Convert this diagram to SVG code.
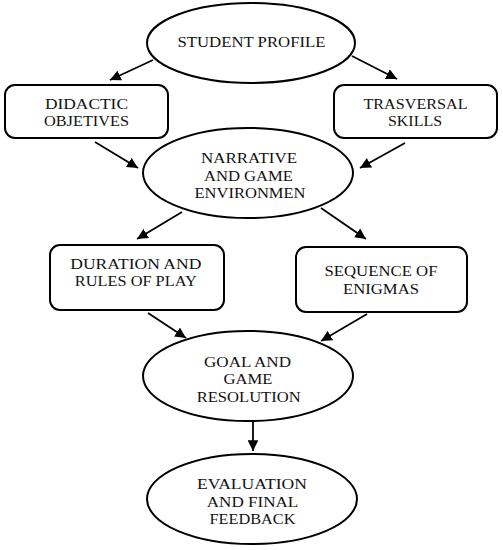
<svg xmlns="http://www.w3.org/2000/svg" width="503" height="550" viewBox="0 0 503 550">
<defs>
<style>
.n{fill:#fff;stroke:#000;stroke-width:2}
.t{font-family:"Liberation Serif","Times New Roman",serif;font-size:15.5px;text-anchor:middle;fill:#111}
.c{stroke:#000;stroke-width:1.8;fill:none;marker-end:url(#ah)}
</style>
<marker id="ah" viewBox="0 0 10 10" refX="10" refY="5" markerWidth="6" markerHeight="6" markerUnits="strokeWidth" orient="auto">
<path d="M0,0 L10,5 L0,10 z" fill="#000"/>
</marker>
</defs>
<rect width="503" height="550" fill="#fff"/>
<g id="connectors">
<line class="c" x1="153" y1="60" x2="110" y2="80"/>
<line class="c" x1="352" y1="56" x2="397" y2="79"/>
<line class="c" x1="95" y1="142" x2="138" y2="168"/>
<line class="c" x1="405" y1="143" x2="360" y2="168"/>
<line class="c" x1="182" y1="212" x2="137" y2="239"/>
<line class="c" x1="321" y1="208" x2="366" y2="239"/>
<line class="c" x1="148" y1="313" x2="186" y2="338"/>
<line class="c" x1="367" y1="314" x2="321" y2="341"/>
<line class="c" x1="253" y1="422" x2="253" y2="451"/>
</g>
<g id="student-profile">
<ellipse class="n" cx="251" cy="43" rx="104" ry="40"/>
<text class="t" x="251.5" y="47" textLength="148" lengthAdjust="spacingAndGlyphs">STUDENT PROFILE</text>
</g>
<g id="didactic-objectives">
<rect class="n" x="5" y="85" width="163" height="53" rx="10"/>
<text class="t" x="86.5" y="109" textLength="83" lengthAdjust="spacingAndGlyphs">DIDACTIC</text>
<text class="t" x="86.5" y="126" textLength="85" lengthAdjust="spacingAndGlyphs">OBJETIVES</text>
</g>
<g id="trasversal-skills">
<rect class="n" x="334" y="85" width="163" height="53" rx="10"/>
<text class="t" x="415.5" y="109" textLength="104" lengthAdjust="spacingAndGlyphs">TRASVERSAL</text>
<text class="t" x="415" y="126" textLength="54" lengthAdjust="spacingAndGlyphs">SKILLS</text>
</g>
<g id="narrative">
<ellipse class="n" cx="248" cy="173" rx="105" ry="45"/>
<text class="t" x="249" y="163.3" textLength="96" lengthAdjust="spacingAndGlyphs">NARRATIVE</text>
<text class="t" x="248.5" y="180.7" textLength="89" lengthAdjust="spacingAndGlyphs">AND GAME</text>
<text class="t" x="250" y="198.2" textLength="111" lengthAdjust="spacingAndGlyphs">ENVIRONMEN</text>
</g>
<g id="duration">
<rect class="n" x="50" y="245" width="174" height="65" rx="10"/>
<text class="t" x="135.8" y="269" textLength="131" lengthAdjust="spacingAndGlyphs">DURATION AND</text>
<text class="t" x="135.8" y="286" textLength="122" lengthAdjust="spacingAndGlyphs">RULES OF PLAY</text>
</g>
<g id="sequence">
<rect class="n" x="296" y="247" width="171" height="65" rx="10"/>
<text class="t" x="381" y="276" textLength="113" lengthAdjust="spacingAndGlyphs">SEQUENCE OF</text>
<text class="t" x="381" y="293.5" textLength="76" lengthAdjust="spacingAndGlyphs">ENIGMAS</text>
</g>
<g id="goal">
<ellipse class="n" cx="248" cy="376" rx="105" ry="45"/>
<text class="t" x="247.5" y="366.7" textLength="87" lengthAdjust="spacingAndGlyphs">GOAL AND</text>
<text class="t" x="248" y="384.3" textLength="49" lengthAdjust="spacingAndGlyphs">GAME</text>
<text class="t" x="248.7" y="401.8" textLength="104" lengthAdjust="spacingAndGlyphs">RESOLUTION</text>
</g>
<g id="evaluation">
<ellipse class="n" cx="252" cy="499" rx="105" ry="45"/>
<text class="t" x="252" y="489.3" textLength="110" lengthAdjust="spacingAndGlyphs">EVALUATION</text>
<text class="t" x="252.5" y="506.7" textLength="91.5" lengthAdjust="spacingAndGlyphs">AND FINAL</text>
<text class="t" x="252.5" y="524" textLength="86" lengthAdjust="spacingAndGlyphs">FEEDBACK</text>
</g>
</svg>
